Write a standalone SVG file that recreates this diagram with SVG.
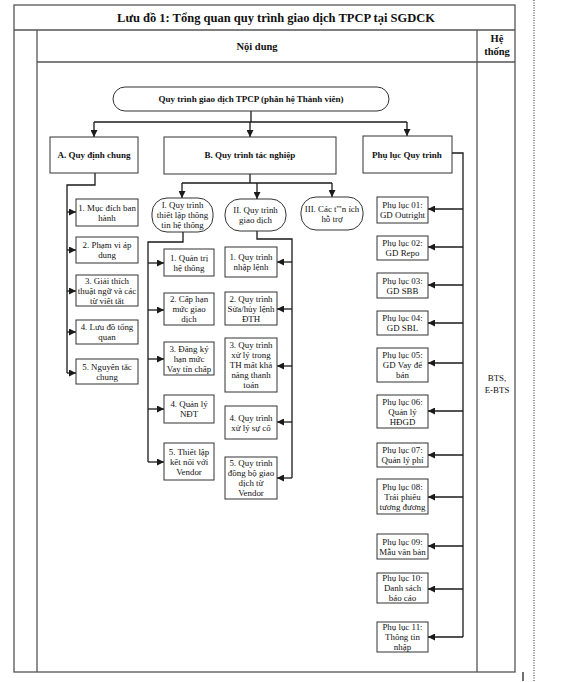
<svg xmlns="http://www.w3.org/2000/svg" width="567" height="682" viewBox="0 0 567 682">
<defs>
<marker id="ah" markerUnits="userSpaceOnUse" markerWidth="7" markerHeight="7" refX="7" refY="3.5" orient="auto">
<path d="M0,0 L7,3.5 L0,7 z" fill="#1a1a1a"/>
</marker>
</defs>
<style>
.frame{fill:none;stroke:#555;stroke-width:1.3}
.box{fill:#fff;stroke:#333;stroke-width:1}
.c{fill:none;stroke:#1a1a1a;stroke-width:1.3}
.a{fill:none;stroke:#1a1a1a;stroke-width:1.3;marker-end:url(#ah)}
text{font-family:"Liberation Serif","DejaVu Serif",serif;fill:#111;text-anchor:middle}
.t{font-size:8.9px}
.b{font-size:9px;font-weight:bold}
.h{font-size:10.5px;font-weight:bold}
.ttl{font-size:12.5px;font-weight:bold}
</style>
<rect width="567" height="682" fill="#fff"/>
<g id="frame">
<rect class="frame" x="14" y="5" width="501" height="667"/>
<line class="frame" x1="14" y1="30" x2="515" y2="30"/>
<line class="frame" x1="37" y1="30" x2="37" y2="672"/>
<line class="frame" x1="37" y1="62" x2="515" y2="62"/>
<line class="frame" x1="477" y1="30" x2="477" y2="672"/>
<line x1="534" y1="0" x2="534" y2="682" stroke="#222" stroke-width="1" stroke-dasharray="1,1.5"/>
<line x1="523" y1="672" x2="523" y2="681" stroke="#111" stroke-width="1.2"/>
<text class="ttl" x="276" y="22">Lưu đồ 1: Tổng quan quy trình giao dịch TPCP tại SGDCK</text>
<text class="h" x="257" y="50">Nội dung</text>
<text class="h" x="497" y="42">Hệ</text>
<text class="h" x="497" y="55">thống</text>
<text class="t" x="497" y="381">BTS,</text>
<text class="t" x="497" y="393">E-BTS</text>
</g>
<g id="connectors">
<polyline class="c" points="251,111 251,122"/>
<polyline class="c" points="94,122 407,122"/>
<line class="a" x1="94" y1="122" x2="94" y2="137"/>
<line class="a" x1="250" y1="122" x2="250" y2="137"/>
<line class="a" x1="407" y1="122" x2="407" y2="136"/>
<polyline class="c" points="95,173 95,185 67,185 67,373"/>
<line class="a" x1="67" y1="212" x2="76" y2="212"/>
<line class="a" x1="67" y1="250" x2="76" y2="250"/>
<line class="a" x1="67" y1="291" x2="76" y2="291"/>
<line class="a" x1="67" y1="332" x2="76" y2="332"/>
<line class="a" x1="67" y1="373" x2="76" y2="373"/>
<polyline class="c" points="250,174 250,183"/>
<polyline class="c" points="182,183 332,183"/>
<line class="a" x1="182" y1="183" x2="182" y2="198"/>
<line class="a" x1="257" y1="183" x2="257" y2="199"/>
<line class="a" x1="332" y1="183" x2="332" y2="197"/>
<polyline class="c" points="183,232 183,242 148,242 148,462"/>
<line class="a" x1="148" y1="263" x2="164" y2="263"/>
<line class="a" x1="148" y1="310" x2="164" y2="310"/>
<line class="a" x1="148" y1="359" x2="164" y2="359"/>
<line class="a" x1="148" y1="409" x2="164" y2="409"/>
<line class="a" x1="148" y1="462" x2="164" y2="462"/>
<polyline class="c" points="257,231 257,239 292,239 292,478"/>
<line class="a" x1="292" y1="262" x2="277" y2="262"/>
<line class="a" x1="292" y1="309" x2="277" y2="309"/>
<line class="a" x1="292" y1="366" x2="277" y2="366"/>
<line class="a" x1="292" y1="422" x2="277" y2="422"/>
<line class="a" x1="292" y1="478" x2="277" y2="478"/>
<polyline class="c" points="452,153 463,153 463,637"/>
<line class="a" x1="463" y1="209" x2="428" y2="209"/>
<line class="a" x1="463" y1="247" x2="428" y2="247"/>
<line class="a" x1="463" y1="285" x2="428" y2="285"/>
<line class="a" x1="463" y1="323" x2="428" y2="323"/>
<line class="a" x1="463" y1="363" x2="428" y2="363"/>
<line class="a" x1="463" y1="411" x2="428" y2="411"/>
<line class="a" x1="463" y1="455" x2="428" y2="455"/>
<line class="a" x1="463" y1="497" x2="428" y2="497"/>
<line class="a" x1="463" y1="546" x2="428" y2="546"/>
<line class="a" x1="463" y1="589" x2="428" y2="589"/>
<line class="a" x1="463" y1="637" x2="428" y2="637"/>
</g>
<g id="root"><rect class="box" x="113" y="87" width="276" height="24" rx="12"/><text class="b" x="251" y="102">Quy trình giao dịch TPCP (phân hệ Thành viên)</text></g>
<g id="A"><rect class="box" x="50" y="137" width="88" height="36"/><text class="b" x="94" y="158">A. Quy định chung</text></g>
<g id="B"><rect class="box" x="164" y="137" width="172" height="37"/><text class="b" x="250" y="158">B. Quy trình tác nghiệp</text></g>
<g id="PL"><rect class="box" x="363" y="136" width="89" height="37"/><text class="b" x="407" y="158">Phụ lục Quy trình</text></g>
<g id="A1"><rect class="box" x="76" y="199" width="62" height="27"/><text class="t" x="107" y="210.5">1. Mục đích ban<tspan x="107" dy="10">hành</tspan></text></g>
<g id="A2"><rect class="box" x="76" y="237" width="62" height="26"/><text class="t" x="107" y="248">2. Phạm vi áp<tspan x="107" dy="10">dung</tspan></text></g>
<g id="A3"><rect class="box" x="76" y="275" width="62" height="31"/><text class="t" x="107" y="283.5">3. Giải thích<tspan x="107" dy="10">thuật ngữ và các</tspan><tspan x="107" dy="10">từ viết tắt</tspan></text></g>
<g id="A4"><rect class="box" x="76" y="320" width="62" height="24"/><text class="t" x="107" y="330">4. Lưu đồ tổng<tspan x="107" dy="10">quan</tspan></text></g>
<g id="A5"><rect class="box" x="76" y="359" width="62" height="25"/><text class="t" x="107" y="369.5">5. Nguyên tắc<tspan x="107" dy="10">chung</tspan></text></g>
<g id="I"><rect class="box" x="152" y="198" width="61" height="34" rx="15"/><text class="t" x="182.5" y="208">I. Quy trình<tspan x="182.5" dy="9.8">thiết lập thông</tspan><tspan x="182.5" dy="9.8">tin hệ thống</tspan></text></g>
<g id="II"><rect class="box" x="225" y="199" width="61" height="32" rx="15"/><text class="t" x="255.5" y="213">II. Quy trình<tspan x="255.5" dy="10">giao dịch</tspan></text></g>
<g id="III"><rect class="box" x="301" y="197" width="62" height="33" rx="15"/><text class="t" x="332" y="211.5">III. Các t'"n ích<tspan x="332" dy="10">hỗ trợ</tspan></text></g>
<g id="I1"><rect class="box" x="164" y="249" width="50" height="27"/><text class="t" x="189" y="260.5">1. Quản trị<tspan x="189" dy="10">hệ thống</tspan></text></g>
<g id="I2"><rect class="box" x="164" y="293" width="50" height="32"/><text class="t" x="189" y="302">2. Cấp hạn<tspan x="189" dy="10">mức giao</tspan><tspan x="189" dy="10">dịch</tspan></text></g>
<g id="I3"><rect class="box" x="164" y="342" width="50" height="33"/><text class="t" x="189" y="351.5">3. Đăng ký<tspan x="189" dy="10">hạn mức</tspan><tspan x="189" dy="10">Vay tín chấp</tspan></text></g>
<g id="I4"><rect class="box" x="164" y="395" width="50" height="28"/><text class="t" x="189" y="407">4. Quản lý<tspan x="189" dy="10">NĐT</tspan></text></g>
<g id="I5"><rect class="box" x="164" y="443" width="50" height="37"/><text class="t" x="189" y="454.5">5. Thiết lập<tspan x="189" dy="10">kết nối với</tspan><tspan x="189" dy="10">Vendor</tspan></text></g>
<g id="II1"><rect class="box" x="225" y="247" width="52" height="30"/><text class="t" x="251" y="260">1. Quy trình<tspan x="251" dy="10">nhập lệnh</tspan></text></g>
<g id="II2"><rect class="box" x="225" y="292" width="52" height="33"/><text class="t" x="251" y="301.5">2. Quy trình<tspan x="251" dy="10">Sửa/hủy lệnh</tspan><tspan x="251" dy="10">ĐTH</tspan></text></g>
<g id="II3"><rect class="box" x="225" y="338" width="52" height="54"/><text class="t" x="251" y="348">3. Quy trình<tspan x="251" dy="10">xử lý trong</tspan><tspan x="251" dy="10">TH mất khả</tspan><tspan x="251" dy="10">năng thanh</tspan><tspan x="251" dy="10">toán</tspan></text></g>
<g id="II4"><rect class="box" x="225" y="406" width="52" height="33"/><text class="t" x="251" y="420.5">4. Quy trình<tspan x="251" dy="10">xử lý sự cố</tspan></text></g>
<g id="II5"><rect class="box" x="225" y="457" width="52" height="42"/><text class="t" x="251" y="466">5. Quy trình<tspan x="251" dy="10">đồng bộ giao</tspan><tspan x="251" dy="10">dịch từ</tspan><tspan x="251" dy="10">Vendor</tspan></text></g>
<g id="PL01"><rect class="box" x="377" y="197" width="51" height="26"/><text class="t" x="402.5" y="208">Phụ lục 01:<tspan x="402.5" dy="10">GD Outright</tspan></text></g>
<g id="PL02"><rect class="box" x="377" y="236" width="51" height="24"/><text class="t" x="402.5" y="246">Phụ lục 02:<tspan x="402.5" dy="10">GD Repo</tspan></text></g>
<g id="PL03"><rect class="box" x="377" y="273" width="51" height="25"/><text class="t" x="402.5" y="283.5">Phụ lục 03:<tspan x="402.5" dy="10">GD SBB</tspan></text></g>
<g id="PL04"><rect class="box" x="377" y="311" width="51" height="24"/><text class="t" x="402.5" y="321">Phụ lục 04:<tspan x="402.5" dy="10">GD SBL</tspan></text></g>
<g id="PL05"><rect class="box" x="377" y="348" width="51" height="34"/><text class="t" x="402.5" y="358">Phụ lục 05:<tspan x="402.5" dy="10">GD Vay để</tspan><tspan x="402.5" dy="10">bán</tspan></text></g>
<g id="PL06"><rect class="box" x="377" y="395" width="51" height="33"/><text class="t" x="402.5" y="404.5">Phụ lục 06:<tspan x="402.5" dy="10">Quản lý</tspan><tspan x="402.5" dy="10">HĐGD</tspan></text></g>
<g id="PL07"><rect class="box" x="377" y="443" width="51" height="24"/><text class="t" x="402.5" y="453">Phụ lục 07:<tspan x="402.5" dy="10">Quản lý phí</tspan></text></g>
<g id="PL08"><rect class="box" x="377" y="479" width="51" height="35"/><text class="t" x="402.5" y="489.5">Phụ lục 08:<tspan x="402.5" dy="10">Trái phiếu</tspan><tspan x="402.5" dy="10">tương đương</tspan></text></g>
<g id="PL09"><rect class="box" x="377" y="534" width="51" height="25"/><text class="t" x="402.5" y="544.5">Phụ lục 09:<tspan x="402.5" dy="10">Mẫu văn bản</tspan></text></g>
<g id="PL10"><rect class="box" x="377" y="573" width="51" height="30"/><text class="t" x="402.5" y="581">Phụ lục 10:<tspan x="402.5" dy="10">Danh sách</tspan><tspan x="402.5" dy="10">báo cáo</tspan></text></g>
<g id="PL11"><rect class="box" x="377" y="622" width="51" height="30"/><text class="t" x="402.5" y="630">Phụ lục 11:<tspan x="402.5" dy="10">Thông tin</tspan><tspan x="402.5" dy="10">nhập</tspan></text></g>
</svg>
